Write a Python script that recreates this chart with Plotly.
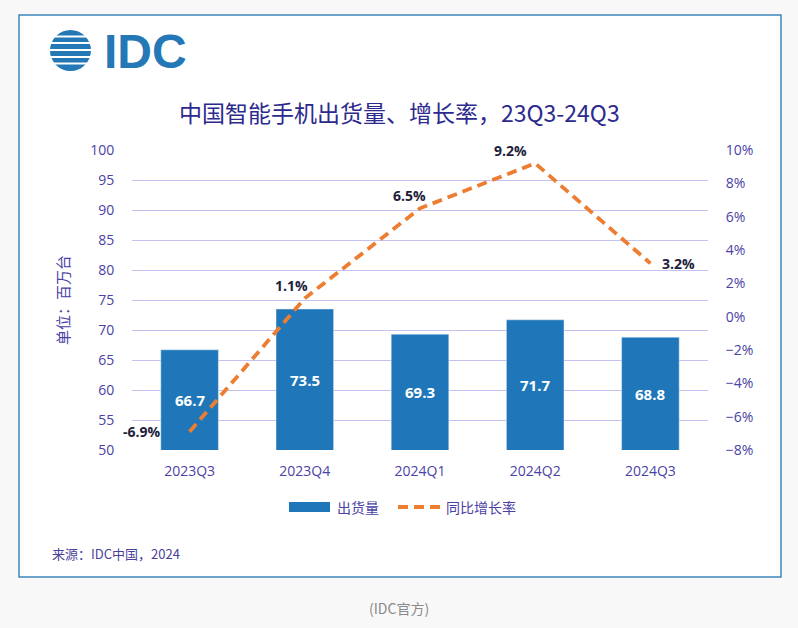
import plotly.graph_objects as go

categories = ["2023Q3", "2023Q4", "2024Q1", "2024Q2", "2024Q3"]
shipments = [66.7, 73.5, 69.3, 71.7, 68.8]
growth = [-6.9, 1.1, 6.5, 9.2, 3.2]
growth_labels = ["-6.9%", "1.1%", "6.5%", "9.2%", "3.2%"]
label_shift = [(-27, 0, "right"), (-13, 13, "center"), (-11, 13, "center"), (-25, 13, "center"), (10, 0, "left")]

W, H = 798, 628
def px(x): return x / W
def py(y): return 1 - y / H

BLUE = "#1f77ba"
ORANGE = "#ed7d31"
PURPLE = "#4a42a6"
CJK = "Noto Sans CJK SC"
DASH = "10px,6px"

fig = go.Figure()
fig.add_trace(go.Bar(
    x=categories, y=shipments, name="出货量", marker_color=BLUE, width=0.5,
    showlegend=False, yaxis="y", hoverinfo="skip"))
fig.add_trace(go.Scatter(
    x=categories, y=growth, name="同比增长率", mode="lines",
    line=dict(color=ORANGE, width=3.8, dash=DASH), yaxis="y2", showlegend=False))

annotations = []
for c, v in zip(categories, shipments):
    annotations.append(dict(x=c, y=(50 + v) / 2, xref="x", yref="y", text=f"<b>{v:.1f}</b>",
                            showarrow=False, xanchor="center", yanchor="middle",
                            font=dict(size=15, color="white", family="Open Sans")))
for c, g, lab, (dx, dy, anc) in zip(categories, growth, growth_labels, label_shift):
    annotations.append(dict(x=c, y=g, xref="x", yref="y2", text=f"<b>{lab}</b>", showarrow=False,
                            xanchor=anc, yanchor="middle", xshift=dx, yshift=dy,
                            font=dict(size=14, color="#1e1e3c", family="Open Sans")))

annotations += [
    dict(x=0.5, y=py(112), xref="paper", yref="paper", text="中国智能手机出货量、增长率，23Q3-24Q3",
         showarrow=False, xanchor="center", yanchor="middle", font=dict(size=23, color="#2d2a8e", family=CJK)),
    dict(x=px(62), y=py(300), xref="paper", yref="paper", text="单位：百万台", textangle=-90,
         showarrow=False, xanchor="center", yanchor="middle", font=dict(size=15, color=PURPLE, family=CJK)),
    dict(x=px(50), y=py(553), xref="paper", yref="paper", text="来源：IDC中国，2024",
         showarrow=False, xanchor="left", yanchor="middle", font=dict(size=13, color="#4a3f9a", family=CJK)),
    dict(x=0.5, y=py(608), xref="paper", yref="paper", text="(IDC官方)",
         showarrow=False, xanchor="center", yanchor="middle", font=dict(size=14, color="#8a8a8a", family=CJK)),
    dict(x=px(335), y=py(507), xref="paper", yref="paper", text="出货量",
         showarrow=False, xanchor="left", yanchor="middle", font=dict(size=14, color=PURPLE, family=CJK)),
    dict(x=px(444), y=py(507), xref="paper", yref="paper", text="同比增长率",
         showarrow=False, xanchor="left", yanchor="middle", font=dict(size=14, color=PURPLE, family=CJK)),
    dict(x=px(102), y=py(51), xref="paper", yref="paper", text="<b>IDC</b>",
         showarrow=False, xanchor="left", yanchor="middle", font=dict(size=48, color="#2378b5", family="Liberation Sans")),
]

shapes = [
    dict(type="rect", xref="paper", yref="paper", x0=px(19), x1=px(781), y0=py(577), y1=py(15),
         fillcolor="white", line=dict(color="#3c86bb", width=1.5), layer="below"),
    dict(type="rect", xref="paper", yref="paper", x0=px(289), x1=px(330), y0=py(512), y1=py(502),
         fillcolor=BLUE, line=dict(width=0)),
    dict(type="line", xref="paper", yref="paper", x0=px(398), x1=px(440), y0=py(507), y1=py(507),
         line=dict(color=ORANGE, width=3.8, dash=DASH)),
    dict(type="circle", xref="paper", yref="paper", x0=px(50), x1=px(91), y0=py(71), y1=py(30),
         fillcolor="#2378b5", line=dict(width=0)),
]
for yy in [36.5, 43, 50, 57, 63.5]:
    shapes.append(dict(type="line", xref="paper", yref="paper", x0=px(47), x1=px(94),
                       y0=py(yy), y1=py(yy), line=dict(color="white", width=2.2)))

fig.update_layout(
    width=W, height=H, margin=dict(l=0, r=0, t=0, b=0, autoexpand=False),
    paper_bgcolor="#f8f8f8", plot_bgcolor="rgba(0,0,0,0)",
    xaxis=dict(domain=[px(132), px(708)], range=[-0.5, 4.5], autorange=False, automargin=False,
               showgrid=False, zeroline=False, showline=False,
               ticks="outside", ticklen=8, tickcolor="rgba(0,0,0,0)",
               tickfont=dict(size=14, color=PURPLE, family="Open Sans")),
    yaxis=dict(domain=[py(450), py(150)], range=[50, 100], dtick=5, showgrid=True, automargin=False,
               gridcolor="#c6c1ee", gridwidth=1.3, zeroline=False, showline=False,
               ticks="outside", ticklen=14, tickcolor="rgba(0,0,0,0)",
               tickfont=dict(size=14, color=PURPLE, family="Open Sans")),
    yaxis2=dict(overlaying="y", side="right", range=[-8, 10], dtick=2, ticksuffix="%", automargin=False,
                showgrid=False, zeroline=False, showline=False,
                ticks="outside", ticklen=14, tickcolor="rgba(0,0,0,0)",
                tickfont=dict(size=14, color=PURPLE, family="Open Sans")),
    annotations=annotations, shapes=shapes,
)

fig.write_html("out.html", config={"displayModeBar": False},
               post_script="document.body.style.margin='0';document.body.style.background='#f8f8f8';document.body.style.overflow='hidden';document.documentElement.style.overflow='hidden';")
